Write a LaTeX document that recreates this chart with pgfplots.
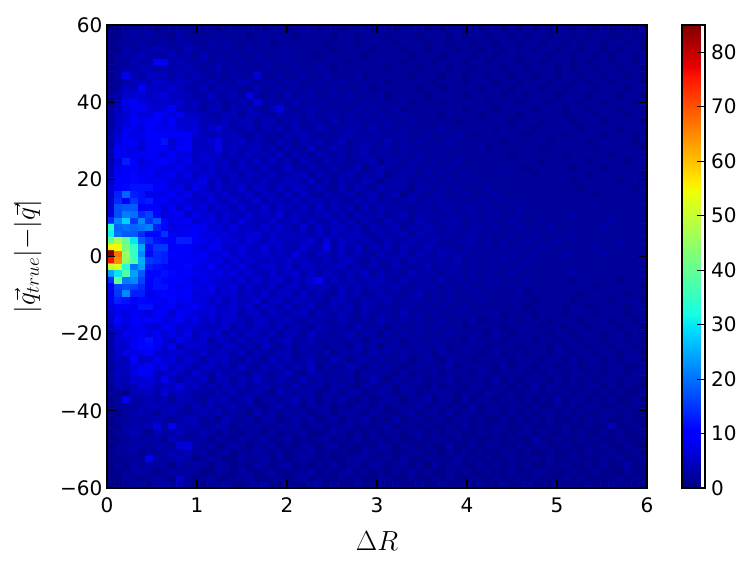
\documentclass[border=0pt]{standalone}
\usepackage{pgfplots}
\usepackage{pgfplotstable}
\usepackage{fontspec}
\setmainfont{DejaVu Sans}
\pgfplotsset{compat=1.18}
\newcommand{\ticksize}{\fontsize{15}{17}\selectfont}
% histogram counts, one \cellrow per y bin (bottom row first), 70 values each
\newcommand{\ncols}{70}
\newcommand{\alldata}{c\\}
\newcount\nv
\newcommand{\addcell}[1]{\xdef\alldata{\unexpanded\expandafter{\alldata}#1\noexpand\\}\global\advance\nv by 1 }
\newcommand{\cellrow}[1]{%
  \global\nv=0
  \foreach \v in {#1}{\ifnum\nv<\ncols\relax\addcell{\v}\fi\xdef\lastv{\v}}%
  \loop\ifnum\nv<\ncols\relax\addcell{\lastv}\repeat}
\cellrow{0,1,1,2,2,1,2,3,2,4, 2,1,1,2,2,3,1,1,2,2, 3,1,1,2,1,1,2,3,1,2, 1,1,2,1,1,2,1,2,1,1, 2,1,1,2,1,1,2,1,2,1, 1,2,1,1,2,1,1,1,2,1, 1,1,2,1,1,2,1,1,1,1}
\cellrow{1,1,2,2,1,2,3,2,1,5, 2,1,2,3,1,1,2,2,3,1, 1,2,2,1,2,3,1,2,1,1, 2,1,2,1,1,2,2,1,1,2, 1,1,2,1,2,1,0,2,1,1, 2,1,1,2,1,2,1,1,0,2, 1,2,1,1,1,1,2,1,2,1}
\cellrow{1,1,2,2,3,2,1,2,3,2, 3,2,1,1,3,2,1,3,2,1, 2,3,1,1,2,2,3,1,2,1, 2,3,1,2,0,2,1,2,1,3, 1,2,1,1,2,1,2,1,1,2, 1,1,2,1,1,2,2,1,1,1, 2,1,1,2,1,1,0,2,1,1}
\cellrow{0,2,1,3,2,3,2,3,1,3, 2,3,2,1,3,2,1,2,1,3, 2,1,2,3,1,2,1,2,1,3, 1,2,2,1,3,2,1,2,2,1, 2,0,3,1,2,2,1,1,2,1, 2,1,2,1,2,1,1,2,1,2, 1,1,2,1,2,1,1,3,1,1}
\cellrow{1,1,2,2,2,8,3,2,3,4, 3,1,2,3,2,1,1,3,2,2, 3,1,2,1,2,3,2,1,2,1, 1,2,3,2,1,2,2,1,3,1, 1,2,1,2,1,3,1,2,1,2, 1,1,2,1,1,2,1,2,1,1, 2,1,1,1,2,1,2,1,1,2}
\cellrow{1,2,2,3,1,3,2,3,4,3, 4,2,3,1,2,3,1,2,2,3, 2,1,3,1,2,2,3,1,2,1, 2,1,1,3,2,1,2,1,1,2, 2,1,2,0,2,1,2,1,2,1, 1,2,2,1,2,0,1,2,1,1, 2,1,2,1,1,2,1,1,2,1}
\cellrow{0,2,2,3,3,2,3,3,2,6, 7,3,2,3,1,2,3,2,1,3, 2,3,1,2,1,3,2,1,2,3, 1,2,1,2,1,3,2,1,2,2, 1,2,1,1,3,1,1,2,1,2, 2,1,1,2,1,2,2,1,1,2, 1,1,2,1,2,1,1,2,1,0}
\cellrow{1,1,2,3,2,3,3,1,4,3, 2,3,3,1,3,2,1,3,2,2, 3,1,2,3,1,2,1,2,3,1, 2,1,3,1,2,2,1,2,1,1, 2,1,2,2,1,2,1,2,1,1, 2,1,2,1,1,3,1,1,2,1, 1,2,1,2,1,1,2,1,1,1}
\cellrow{0,2,2,4,3,1,4,3,3,4, 3,2,4,3,1,3,2,1,3,2, 1,3,1,2,2,3,1,1,2,3, 2,1,2,1,3,1,2,2,1,2, 3,1,2,1,2,2,1,1,2,1, 2,1,1,2,2,1,2,1,1,2, 1,2,1,1,2,1,2,1,1,2}
\cellrow{1,1,3,3,3,4,7,2,8,4, 3,4,2,2,4,3,1,3,2,3, 2,1,3,2,3,1,2,3,1,2, 2,3,1,2,1,2,3,1,2,2, 1,2,1,1,2,1,3,1,2,1, 2,2,1,1,2,1,1,2,1,2, 1,1,2,1,1,4,1,1,2,1}
\cellrow{0,2,2,3,3,3,4,3,2,3, 4,4,2,3,1,4,3,2,3,1, 3,3,1,2,3,2,3,1,2,3, 1,2,2,3,1,2,1,3,1,2, 2,1,2,2,1,2,2,1,2,1, 1,2,1,2,1,2,1,2,1,1, 2,1,2,1,2,1,1,2,1,1}
\cellrow{1,1,2,3,4,3,2,4,4,3, 2,3,4,3,4,2,3,2,1,4, 2,3,1,3,2,3,1,2,3,1, 2,3,2,1,3,2,1,1,2,3, 1,2,2,1,3,1,2,2,1,2, 2,1,2,1,2,1,2,2,1,2, 1,2,1,1,2,2,1,2,1,1}
\cellrow{1,2,2,3,3,4,4,3,4,4, 2,4,3,4,2,3,4,2,3,2, 1,3,4,2,3,1,3,2,3,1, 2,1,3,2,1,3,1,2,2,2, 3,1,2,2,1,2,1,3,1,2, 2,1,2,2,1,2,1,1,2,1, 2,1,2,2,1,1,2,1,2,1}
\cellrow{1,2,8,3,3,4,3,4,2,4, 4,3,2,4,3,4,2,3,4,1, 3,3,2,3,4,2,3,1,3,2, 3,2,1,3,1,2,3,2,1,2, 2,3,1,2,2,1,3,1,2,2, 1,2,2,1,2,1,2,1,3,1, 2,2,1,2,1,2,1,1,2,1}
\cellrow{2,2,1,4,4,5,3,7,4,5, 4,3,3,2,4,3,4,2,3,4, 2,1,4,3,2,3,3,1,2,3, 1,3,3,1,2,3,2,1,2,3, 1,2,2,3,2,1,2,2,1,3, 2,1,2,1,2,2,1,2,1,2, 1,2,2,1,2,1,2,1,1,2}
\cellrow{1,4,3,4,6,6,4,5,5,7, 4,5,3,4,2,4,3,4,2,3, 4,2,3,2,4,2,3,3,1,3, 3,2,1,3,2,2,3,1,3,2, 2,1,3,1,2,2,1,2,2,1, 2,2,1,2,1,3,1,2,2,1, 2,1,2,2,1,2,1,2,1,1}
\cellrow{2,4,4,6,6,7,5,8,5,3, 5,4,5,2,4,4,2,4,3,5, 3,2,4,3,2,4,2,3,2,3, 2,3,1,2,4,2,1,3,2,2, 3,1,2,2,3,1,2,2,2,1, 3,1,2,1,2,2,2,1,2,1, 2,1,2,1,2,2,1,2,2,1}
\cellrow{2,5,4,7,10,9,5,5,6,5, 3,6,4,3,5,3,4,3,2,4, 3,2,3,5,2,1,4,3,2,2, 3,3,1,3,2,3,2,1,3,1, 2,2,3,1,2,2,2,1,3,2, 1,2,2,2,1,2,1,2,2,1, 2,2,1,2,1,2,2,1,2,2}
\cellrow{2,4,5,7,8,9,7,8,5,6, 5,3,5,5,3,4,2,5,3,2, 4,3,4,2,4,3,5,1,3,2, 2,4,3,1,3,2,3,2,1,2, 3,2,2,2,3,1,2,2,2,2, 1,3,1,2,2,1,2,2,1,2, 2,1,2,2,1,2,2,1,1,2}
\cellrow{2,5,4,10,5,6,8,6,7,4, 6,5,3,5,4,5,3,2,4,3, 2,5,3,4,2,3,4,2,2,4, 3,1,3,3,2,3,2,2,3,1, 2,3,2,1,3,2,2,1,2,2, 2,2,1,2,2,2,1,2,2,1, 3,1,2,2,1,2,1,2,2,1}
\cellrow{3,5,8,7,8,10,6,5,6,6, 5,4,6,3,5,4,3,5,2,4, 3,2,4,4,2,3,3,2,4,1, 3,3,3,1,4,2,3,2,3,2, 2,3,1,3,2,2,2,2,1,2, 3,1,2,2,1,2,2,1,2,2, 1,2,2,1,2,2,1,2,2,1}
\cellrow{2,6,5,9,11,11,9,6,8,4, 6,6,5,4,3,5,5,3,4,2, 5,3,2,4,2,4,3,3,1,3, 3,1,4,2,3,1,3,3,2,2, 3,2,2,3,1,2,3,2,2,1, 2,2,2,1,2,2,2,1,3,1, 2,2,1,2,2,1,2,2,1,2}
\cellrow{3,6,7,8,11,12,8,7,5,8, 6,5,6,3,5,5,3,5,3,4, 5,2,4,5,2,3,4,2,3,3, 2,3,3,1,3,3,2,3,1,3, 2,2,3,2,2,2,1,3,2,2, 2,1,2,2,2,1,2,2,1,2, 2,1,2,2,1,2,2,1,2,1}
\cellrow{3,5,8,8,9,7,9,6,8,6, 8,4,6,5,6,3,5,3,5,4, 3,5,2,4,4,2,5,3,3,2, 3,4,2,3,3,1,3,2,3,2, 3,2,2,2,3,2,2,2,2,1, 3,2,1,2,2,2,2,1,2,2, 1,2,2,2,1,2,2,1,2,2}
\cellrow{4,8,6,9,8,7,6,9,8,6, 7,6,5,4,5,6,3,5,3,5, 4,3,5,2,4,3,2,4,3,3, 3,2,4,2,3,3,1,3,2,2, 3,2,3,2,2,3,1,2,2,2, 2,1,2,2,2,2,1,2,2,1, 2,2,1,2,2,2,1,2,2,1}
\cellrow{5,11,8,9,9,10,9,7,8,9, 6,8,5,6,4,6,5,4,3,5, 5,3,4,5,3,2,4,3,3,2, 4,3,2,3,2,4,3,2,3,2, 3,2,2,3,2,2,2,3,1,2, 2,2,2,1,2,2,2,1,2,2, 2,1,2,2,2,1,2,2,1,2}
\cellrow{6,8,7,9,8,7,10,9,6,10, 8,7,6,7,5,6,6,3,5,5, 3,5,4,3,4,5,2,4,3,3, 4,3,2,4,2,3,3,2,4,2, 3,2,3,2,2,3,2,2,2,2, 3,1,2,2,2,1,2,2,2,1, 2,2,2,1,2,2,2,1,2,2}
\cellrow{7,9,10,8,12,12,8,10,9,7, 8,9,7,6,5,5,6,4,6,3, 5,4,3,5,3,4,5,2,3,4, 3,4,2,4,3,2,3,2,3,3, 2,3,2,3,2,2,3,2,2,2, 2,2,2,2,1,2,2,2,2,1, 2,2,1,2,2,2,2,1,2,2}
\cellrow{8,13,12,9,11,10,9,8,11,8, 9,7,7,5,7,4,6,4,5,6, 3,5,5,3,5,4,4,3,2,4, 4,3,2,4,3,3,4,2,3,3, 3,2,3,2,3,2,2,2,3,2, 2,2,2,2,2,1,2,2,2,2, 1,2,2,2,2,1,2,2,2,1}
\cellrow{8,15,22,13,13,8,9,11,10,9, 10,7,7,7,5,6,6,4,5,4, 6,3,5,5,3,5,3,4,3,2, 5,3,4,2,3,4,3,3,2,3, 4,2,3,2,3,2,2,3,2,2, 2,2,2,3,1,2,2,2,2,2, 2,1,2,2,2,2,2,1,2,2}
\cellrow{10,16,17,16,14,9,12,12,9,8, 9,8,7,8,6,6,7,4,6,4, 4,6,3,5,5,3,5,4,5,2, 4,3,4,3,4,3,3,4,3,2, 3,3,3,2,3,2,3,2,2,3, 2,2,2,2,2,2,2,2,2,2, 2,2,2,1,2,2,2,2,2,1}
\cellrow{14,40,21,22,16,10,12,11,10,10, 8,7,8,7,6,6,5,6,4,6, 4,5,6,3,5,4,6,9,3,5, 3,4,3,3,4,4,3,2,4,3, 3,3,2,4,2,3,2,3,2,2, 3,2,2,2,3,2,2,2,2,2, 1,3,2,2,2,2,1,2,2,2}
\cellrow{24,30,38,24,18,11,11,12,11,9, 10,8,8,7,8,6,7,5,6,5, 4,6,4,5,6,3,5,3,5,4, 3,4,3,5,2,4,3,3,2,4, 3,3,3,2,3,3,2,3,2,3, 2,2,3,2,2,2,2,2,2,2, 3,2,2,2,2,2,2,2,2,2}
\cellrow{50,52,33,20,24,13,12,11,9,9, 11,8,7,10,6,7,5,7,5,4, 6,6,4,6,3,5,5,4,3,4, 5,3,4,2,4,3,2,4,3,2, 3,4,2,3,3,3,2,3,2,2, 3,2,2,3,2,2,2,2,2,2, 2,2,2,2,2,2,2,2,2,2}
\cellrow{76,65,45,37,25,15,14,13,9,10, 9,9,8,7,8,5,7,5,6,5, 4,6,4,6,4,5,4,3,5,3, 4,5,3,2,4,3,3,4,2,4, 3,3,3,3,2,4,2,3,2,3, 2,3,2,2,3,2,2,2,2,2, 2,2,2,2,2,2,2,2,2,2}
\cellrow{85,67,46,35,22,11,14,13,11,9, 10,8,9,7,6,8,5,7,5,5, 6,4,5,4,7,4,3,5,4,3, 5,3,4,3,2,4,3,3,4,2, 4,3,2,4,3,3,3,2,3,2, 3,2,3,2,2,3,2,2,2,3, 2,2,2,2,3,2,2,2,2,2}
\cellrow{55,55,42,35,24,12,15,15,9,10, 9,8,7,8,8,6,5,7,5,5, 7,4,6,4,4,6,4,4,8,3, 5,3,5,2,4,3,4,2,4,3, 3,4,3,3,3,2,3,3,2,3, 2,3,2,3,2,2,3,2,2,2, 2,2,2,3,2,2,2,2,2,2}
\cellrow{40,47,40,30,18,15,12,11,10,13, 13,10,8,7,8,6,7,5,7,5, 4,6,5,4,4,5,6,3,7,3, 5,4,3,4,3,2,4,3,3,4, 3,3,4,2,2,3,3,3,2,3, 2,3,2,2,3,2,2,2,3,2, 2,2,2,2,2,2,3,2,2,2}
\cellrow{31,20,18,18,14,11,11,15,9,8, 9,10,7,8,6,7,5,5,6,7, 4,6,4,5,4,4,3,5,3,5, 3,4,5,3,2,4,3,3,4,2, 4,3,3,3,3,2,3,3,2,3, 2,2,3,2,2,3,2,2,2,2, 3,2,2,2,2,2,2,2,2,2}
\cellrow{34,19,20,19,20,21,13,11,7,8, 8,9,8,6,7,5,7,5,5,4, 6,4,6,4,3,6,3,5,3,4, 5,3,4,2,4,3,3,4,2,3, 3,4,3,2,3,3,2,3,3,2, 3,2,2,3,2,2,2,3,2,2, 2,2,2,2,3,2,2,2,2,2}
\cellrow{14,22,28,15,22,15,18,11,8,8, 9,6,7,7,5,6,4,7,5,4, 4,6,4,4,5,3,5,3,3,5, 3,4,2,4,3,2,4,3,3,2, 4,3,2,3,3,3,2,3,2,3, 2,2,3,2,2,2,3,2,2,2, 2,2,2,2,2,3,2,2,2,2}
\cellrow{7,17,21,20,14,16,11,6,8,9, 5,8,6,7,4,6,5,4,6,4, 5,4,6,3,5,4,3,4,5,3, 4,2,4,3,3,4,2,3,4,2, 3,3,3,2,3,3,2,3,2,2, 3,2,2,3,2,2,2,2,2,2, 3,2,2,2,2,2,2,2,2,2}
\cellrow{6,17,18,18,9,10,10,7,9,6, 8,6,7,4,6,5,4,6,4,4, 6,3,5,4,3,5,3,5,3,4, 3,4,2,4,2,4,3,3,3,2, 3,3,2,3,3,2,3,3,2,3, 2,2,2,3,2,2,2,2,2,2, 2,2,2,2,2,2,2,2,2,2}
\cellrow{6,14,10,15,12,13,9,10,7,8, 6,6,5,7,5,4,6,4,4,6, 3,5,4,3,5,3,4,4,2,4, 3,2,4,3,4,2,3,2,3,4, 2,3,3,3,2,3,2,2,3,2, 2,3,2,2,2,2,2,2,2,2, 2,2,2,2,2,2,2,2,2,2}
\cellrow{5,13,19,13,12,8,8,8,9,7, 8,5,6,6,4,6,4,4,6,3, 5,4,3,5,3,5,3,2,4,3, 3,4,2,3,4,2,3,4,1,3, 3,2,3,3,2,2,3,2,2,2, 3,2,2,2,2,2,2,2,2,2, 2,2,2,1,2,2,2,2,2,2}
\cellrow{6,10,11,12,12,12,9,9,7,8, 5,8,6,4,6,4,4,6,3,5, 4,3,5,3,5,4,3,4,3,2, 4,2,4,3,2,4,3,3,3,1, 3,3,2,3,2,3,2,2,2,3, 2,2,2,2,2,2,2,2,2,2, 2,1,2,2,2,2,2,2,1,2}
\cellrow{4,9,10,11,10,8,9,8,7,6, 6,6,8,4,6,3,5,4,4,3, 5,3,3,5,4,3,5,2,4,2, 4,3,2,4,3,1,3,3,3,2, 3,2,3,2,3,2,2,3,2,2, 2,2,2,2,2,2,2,2,2,2, 1,2,2,2,2,2,1,2,2,2}
\cellrow{4,9,9,11,8,9,7,8,9,6, 8,5,6,6,4,4,5,3,5,4, 3,5,3,3,4,5,2,4,3,2, 3,4,2,3,3,4,1,3,3,3, 2,3,2,3,2,2,3,2,2,2, 2,3,2,2,2,1,2,2,2,2, 2,2,1,2,2,2,2,2,2,1}
\cellrow{4,8,9,9,8,9,8,7,7,8, 6,6,5,6,4,5,3,5,4,3, 5,3,3,5,3,2,4,3,2,4, 2,3,4,1,3,4,3,2,3,3, 2,3,2,2,3,2,2,2,2,2, 2,2,2,2,1,2,2,2,2,2, 1,2,2,2,1,2,2,2,2,2}
\cellrow{3,7,13,10,7,8,9,10,8,7, 8,5,6,6,4,5,3,5,3,5, 3,5,3,4,2,4,3,2,4,3, 3,2,3,3,4,1,3,3,2,3, 3,2,3,2,2,3,2,2,2,2, 2,2,2,2,2,2,1,2,2,2, 2,2,1,2,2,2,2,1,2,2}
\cellrow{3,9,8,8,9,9,8,7,9,7, 7,5,6,5,6,3,5,3,5,3, 4,3,5,2,4,3,2,4,3,2, 4,2,3,4,2,3,3,2,3,2, 3,2,2,3,2,2,2,2,2,2, 2,2,1,2,2,2,2,2,2,1, 2,2,2,2,2,1,2,2,2,2}
\cellrow{3,9,8,8,6,9,9,9,7,9, 9,5,5,5,8,4,5,3,4,5, 3,4,2,4,3,2,5,2,3,4, 3,2,3,4,2,3,3,2,3,3, 2,2,3,2,2,2,2,2,3,1, 2,2,2,2,2,2,1,2,2,2, 2,2,2,1,2,2,2,2,2,1}
\cellrow{3,7,9,9,7,9,9,12,6,8, 9,5,5,6,8,4,4,5,3,4, 3,2,4,3,2,4,3,4,2,3, 4,2,3,3,3,2,4,2,3,2, 3,2,2,2,3,2,2,2,2,2, 2,1,2,2,2,2,2,1,2,2, 2,2,1,2,2,2,2,2,1,2}
\cellrow{3,6,9,7,8,9,10,9,9,9, 9,6,4,4,4,4,5,3,2,4, 3,3,2,4,3,4,3,2,3,2, 3,4,2,3,3,3,2,3,3,2, 2,3,2,2,2,3,2,1,2,2, 2,2,2,2,1,2,2,2,2,1, 2,2,2,2,1,2,2,2,1,2}
\cellrow{3,5,8,8,7,10,8,8,8,7, 6,7,4,5,7,4,3,3,5,2, 4,3,4,2,4,3,2,4,3,2, 3,3,3,2,4,2,3,2,3,2, 2,2,2,3,2,2,2,2,2,2, 1,2,2,2,2,1,2,2,2,2, 2,1,2,2,2,2,1,2,2,2}
\cellrow{2,5,7,9,8,9,9,7,9,6, 6,6,4,4,3,5,3,4,4,2, 4,4,2,3,4,2,3,3,2,4, 2,3,3,2,3,2,3,2,2,3, 2,2,2,2,2,1,2,2,2,2, 2,2,1,2,2,2,1,2,2,2, 1,2,2,2,1,2,2,2,2,1}
\cellrow{2,5,6,8,7,7,10,8,7,8, 5,5,4,3,3,4,4,2,4,4, 3,2,4,3,3,2,4,2,3,3, 2,3,2,3,2,3,2,2,3,2, 2,2,2,1,2,2,2,2,1,2, 2,2,2,1,2,2,2,2,2,1, 2,2,2,1,2,2,2,1,2,2}
\cellrow{2,4,7,8,9,7,6,7,9,5, 4,4,2,4,4,2,4,3,4,3, 2,4,7,3,2,3,3,3,2,3, 2,2,3,2,3,2,2,3,1,2, 2,2,2,2,2,2,1,2,2,2, 1,2,2,2,2,1,2,2,2,1, 2,2,1,2,2,2,1,2,2,2}
\cellrow{1,4,8,9,7,6,5,6,5,6, 4,5,3,3,4,2,3,4,2,7, 3,3,3,2,4,2,3,2,3,2, 3,2,2,3,2,2,2,2,3,1, 2,2,2,1,2,2,2,2,2,1, 2,2,2,1,2,2,2,1,2,2, 2,1,2,2,1,2,2,2,1,2}
\cellrow{2,3,6,6,6,5,6,7,5,5, 4,3,3,5,2,3,4,2,7,3, 2,3,2,4,2,3,3,2,2,3, 2,3,2,2,2,3,1,2,2,2, 2,1,2,2,2,2,1,2,2,2, 2,1,2,2,1,2,2,2,1,2, 2,2,1,2,2,2,1,2,2,1}
\cellrow{1,2,5,4,10,5,5,4,6,4, 3,3,4,2,4,3,3,2,2,4, 2,3,3,2,3,2,3,2,2,3, 2,2,2,3,1,2,2,2,2,2, 1,2,2,1,2,2,2,2,1,2, 2,2,1,2,2,2,1,2,2,1, 2,2,2,1,2,2,2,1,2,2}
\cellrow{1,2,3,4,5,4,6,5,4,5, 4,3,3,4,2,3,2,4,3,2, 3,3,2,3,3,2,2,3,2,2, 3,2,2,2,2,3,1,2,2,2, 2,2,1,2,2,2,1,2,2,2, 1,2,2,1,2,2,2,1,2,2, 1,2,1,2,2,1,2,2,2,1}
\cellrow{1,2,8,4,3,5,4,4,3,4, 3,4,3,2,3,2,3,3,2,6, 2,2,3,2,2,3,2,2,3,2, 2,2,3,1,2,2,2,2,2,1, 2,2,2,1,2,2,1,2,2,1, 2,2,1,2,2,1,2,2,1,2, 2,1,2,2,1,2,2,1,2,2}
\cellrow{1,2,3,3,4,4,3,4,3,3, 4,3,2,3,4,2,3,2,3,2, 3,2,2,2,3,2,2,3,2,1, 2,2,2,2,2,2,1,2,2,2, 1,2,2,2,1,2,2,1,2,2, 2,1,2,2,1,2,2,2,1,2, 1,2,2,1,2,2,1,2,2,1}
\cellrow{1,2,2,4,3,3,9,9,3,4, 3,3,3,2,3,3,2,3,2,2, 3,2,2,3,2,2,2,2,2,2, 2,1,2,2,2,2,2,2,1,2, 2,2,1,2,2,2,1,2,2,1, 2,2,2,1,2,2,1,2,2,2, 1,2,1,2,2,1,2,2,1,2}
\cellrow{1,2,3,3,4,3,3,3,4,3, 3,2,4,2,3,2,3,2,2,3, 2,2,3,2,2,2,2,1,2,2, 2,2,2,1,2,2,2,2,2,1, 2,2,2,1,2,2,2,1,2,2, 1,2,2,1,2,2,2,1,2,2, 1,2,2,1,2,1,2,2,1,2}
\cellrow{1,1,3,2,3,3,4,3,3,2, 4,3,2,3,2,3,2,2,3,2, 2,2,2,3,2,2,2,2,2,1, 2,2,2,2,1,2,2,2,1,2, 2,1,2,2,2,1,2,2,1,2, 2,1,2,2,2,1,2,2,1,2, 2,1,2,2,1,2,1,2,2,1}
\cellrow{1,2,2,2,3,2,2,3,2,3, 3,2,2,3,2,3,2,2,2,2, 3,1,2,2,2,2,2,2,1,2, 2,2,1,2,2,2,2,1,2,2, 2,1,2,2,1,2,2,1,2,2, 1,2,2,1,2,2,1,2,2,1, 2,1,2,2,1,2,2,1,2,1}
\cellrow{1,1,2,3,2,3,2,2,1,3, 2,2,2,2,3,2,2,2,1,2, 2,2,2,2,1,2,2,2,2,1, 2,2,1,2,2,2,1,2,2,2, 1,2,2,2,1,2,1,2,2,1, 2,2,1,2,1,2,2,1,2,2, 1,2,1,2,2,1,1,2,1,2}
\cellrow{0,1,2,2,2,2,1,2,2,2, 2,2,2,2,1,2,2,2,2,2, 1,2,2,1,2,2,2,1,2,2, 1,2,2,2,1,2,2,1,2,2, 2,1,2,1,2,2,1,2,1,2, 2,1,2,1,2,1,2,1,2,2, 1,2,1,1,2,1,2,1,1,2}
\begingroup\edef\x{\endgroup\noexpand\pgfplotstableread[row sep=\noexpand\\]{\unexpanded\expandafter{\alldata}}\noexpand\histdata}\x
\begin{document}
\begin{tikzpicture}
\useasboundingbox (-80.25pt,-60.75pt) rectangle (483.75pt,366pt);
\begin{axis}[
  at={(0pt,0pt)}, anchor=south west,
  scale only axis, width=405pt, height=347.25pt,
  xmin=0, xmax=6, ymin=-60, ymax=60,
  axis line style={line width=1.4pt},
  axis on top,
  tick style={black, line width=0.8pt},
  tick align=inside,
  major tick length=6pt,
  xtick={0,1,...,6}, ytick={-60,-40,...,60},
  xticklabels={0,1,2,3,4,5,6},
  yticklabels={−60,−40,−20,0,20,40,60},
  tick label style={font=\ticksize},
  x tick label style={yshift=-4pt},
  xlabel={\fontsize{22}{24}\selectfont $\Delta R$},
  xlabel style={yshift=-7pt},
  ylabel={\fontsize{19.5}{22}\selectfont $|\vec{q}_{true}|{-}|\vec{q}|$},
  ylabel style={yshift=7pt},
  colormap={mjet}{rgb(0pt)=(0,0,.5) rgb(110pt)=(0,0,1) rgb(125pt)=(0,0,1) rgb(340pt)=(0,.86,1)
    rgb(350pt)=(0,.9,.968) rgb(375pt)=(.081,1,.887) rgb(640pt)=(.935,1,.032) rgb(650pt)=(.968,.963,0)
    rgb(660pt)=(1,.926,0) rgb(890pt)=(1,.074,0) rgb(910pt)=(.909,0,0) rgb(1000pt)=(.5,0,0)},
  point meta min=0, point meta max=85,
  colorbar,
  colorbar style={
    at={(1.0648,1)}, anchor=north west, width=17.25pt,
    ytick={0,10,...,80}, yticklabels={0,10,20,30,40,50,60,70,80},
    tick align=inside, major tick length=6pt,
    ytick pos=right, tick label style={font=\ticksize},
    y tick label style={xshift=1pt},
    axis line style={line width=1.4pt},
    tick style={black,line width=0.8pt},
  },
]
\addplot[matrix plot*, mesh/cols=\ncols, point meta=explicit]
  table[meta=c, x index=0, y index=0,
    x expr={(mod(\coordindex,\ncols)+.5)*6/\ncols},
    y expr={(floor((\coordindex+.5)/\ncols)+.5)*120/\ncols-60}] {\histdata};
\end{axis}
\end{tikzpicture}
\end{document}
